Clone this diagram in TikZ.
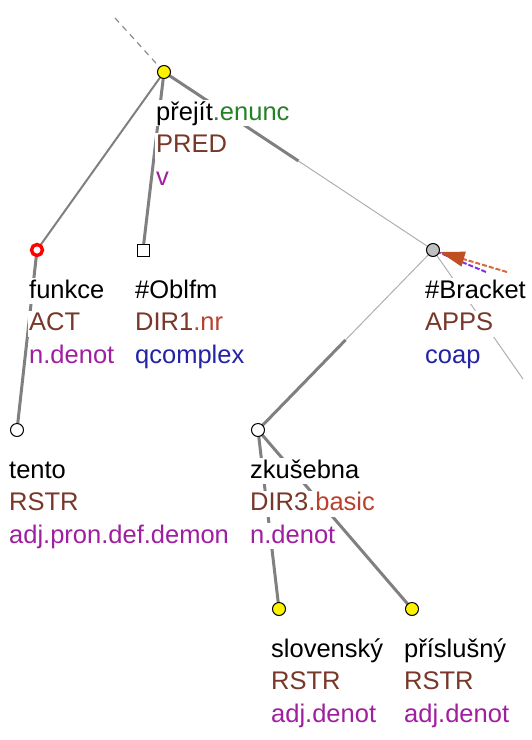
\documentclass[tikz,border=0pt]{standalone}
\usepackage{fontspec}
\setmainfont{Liberation Sans}
\usetikzlibrary{calc,arrows.meta,backgrounds}
\definecolor{fnc}{RGB}{120,55,40}
\definecolor{fsub}{RGB}{185,65,45}
\definecolor{sem}{RGB}{160,30,160}
\definecolor{typ}{RGB}{35,35,165}
\definecolor{modal}{RGB}{35,130,35}
\definecolor{edgegray}{RGB}{128,128,128}
\definecolor{thingray}{RGB}{175,175,175}
\definecolor{coref}{RGB}{215,105,55}
\definecolor{corefhead}{RGB}{190,80,35}
\definecolor{gram}{RGB}{130,50,230}
\begin{document}
\begin{tikzpicture}[x=1pt,y=-1pt,
  lbl/.style={anchor=base west, fill=white, inner xsep=1pt, inner ysep=0pt,
              text height=20pt, text depth=6pt, font=\fontsize{25.5}{30}\selectfont},
  sym/.style={draw=black, line width=1pt, minimum size=13pt, inner sep=0pt},
  yel/.style={sym, circle, fill=yellow},
  grey/.style={sym, circle, fill=black!25},
  hollow/.style={sym, circle, fill=white},
  box/.style={sym, rectangle, fill=white, minimum size=12pt},
  ring/.style={circle, draw=red, line width=3.4pt, fill=white, minimum size=11pt, inner sep=0pt},
  heavy/.style={draw=edgegray, line width=3pt},
  medium/.style={draw=edgegray, line width=2pt},
  light/.style={draw=thingray, line width=1pt},
  toparc/.style={draw=black!45, line width=1.2pt, dash pattern=on 6pt off 5pt}]
\useasboundingbox (0,0) rectangle (532,740);
\clip (0,0) rectangle (532,740);

% tree nodes
\node[yel]    (p)  at (164,72)  {};
\node[ring]   (fu) at (37,250)  {};
\node[box]    (ob) at (143,250) {};
\node[grey]   (br) at (433,250) {};
\node[hollow] (te) at (17,430)  {};
\node[hollow] (zk) at (258,430) {};
\node[yel]    (sl) at (279,609) {};
\node[yel]    (pr) at (412,609) {};
\coordinate (up) at (115,18);
\coordinate (out) at (523,379);
\coordinate (cA) at (507,272);
\coordinate (cB) at (486,272);

% labels
\node[lbl] (pL) at (155,120)   {přejít\textcolor{modal}{.enunc}};
\node[lbl] (pF) at (155,152.5) {\textcolor{fnc}{PRED}};
\node[lbl] (pS) at (155,185)   {\textcolor{sem}{v}};

\node[lbl] (fuL) at (28,298)   {funkce};
\node[lbl] (fuF) at (28,330.5) {\textcolor{fnc}{ACT}};
\node[lbl] (fuS) at (28,363)   {\textcolor{sem}{n.denot}};

\node[lbl] (obL) at (134,298)   {\#Oblfm};
\node[lbl] (obF) at (134,330.5) {\textcolor{fnc}{DIR1}\textcolor{fsub}{.nr}};
\node[lbl] (obS) at (134,363)   {\textcolor{typ}{qcomplex}};

\node[lbl] (brL) at (424,298)   {\#Bracket};
\node[lbl] (brF) at (424,330.5) {\textcolor{fnc}{APPS}};
\node[lbl] (brS) at (424,363)   {\textcolor{typ}{coap}};

\node[lbl] (teL) at (8,478)   {tento};
\node[lbl] (teF) at (8,510.5) {\textcolor{fnc}{RSTR}};
\node[lbl] (teS) at (8,543)   {\textcolor{sem}{adj.pron.def.demon}};

\node[lbl] (zkL) at (249,478)   {zkušebna};
\node[lbl] (zkF) at (249,510.5) {\textcolor{fnc}{DIR3}\textcolor{fsub}{.basic}};
\node[lbl] (zkS) at (249,543)   {\textcolor{sem}{n.denot}};

\node[lbl] (slL) at (270,657)   {slovenský};
\node[lbl] (slF) at (270,689.5) {\textcolor{fnc}{RSTR}};
\node[lbl] (slS) at (270,722)   {\textcolor{sem}{adj.denot}};

\node[lbl] (prL) at (403,657)   {příslušný};
\node[lbl] (prF) at (403,689.5) {\textcolor{fnc}{RSTR}};
\node[lbl] (prS) at (403,722)   {\textcolor{sem}{adj.denot}};

% edges, kept behind the labels
\begin{scope}[on background layer]
  \draw[toparc] (up) -- (p);
  \draw[medium] (p.center) -- (fu.center);
  \draw[heavy]  (p.center) -- (ob.center);
  \draw[heavy]  (p.center) -- ($(p.center)!0.5!(br.center)$);
  \draw[light]  ($(p.center)!0.5!(br.center)$) -- (br.center);
  \draw[light]  (br.center) -- ($(br.center)!0.5!(zk.center)$);
  \draw[heavy]  ($(br.center)!0.5!(zk.center)$) -- (zk.center);
  \draw[light]  (br.center) -- (out);
  \draw[heavy]  (fu.center) -- (te.center);
  \draw[heavy]  (zk.center) -- (sl.center);
  \draw[heavy]  (zk.center) -- (pr.center);
  % coreference stubs arriving at the bracket node
  \draw[gram, line width=2pt, dash pattern=on 5pt off 2pt] (cB) -- (br);
  \draw[coref, line width=2pt, dash pattern=on 5pt off 2pt,
        -{Triangle[length=25pt,width=15pt,fill=corefhead,color=corefhead]}] (cA) -- (br);
\end{scope}
\end{tikzpicture}
\end{document}
